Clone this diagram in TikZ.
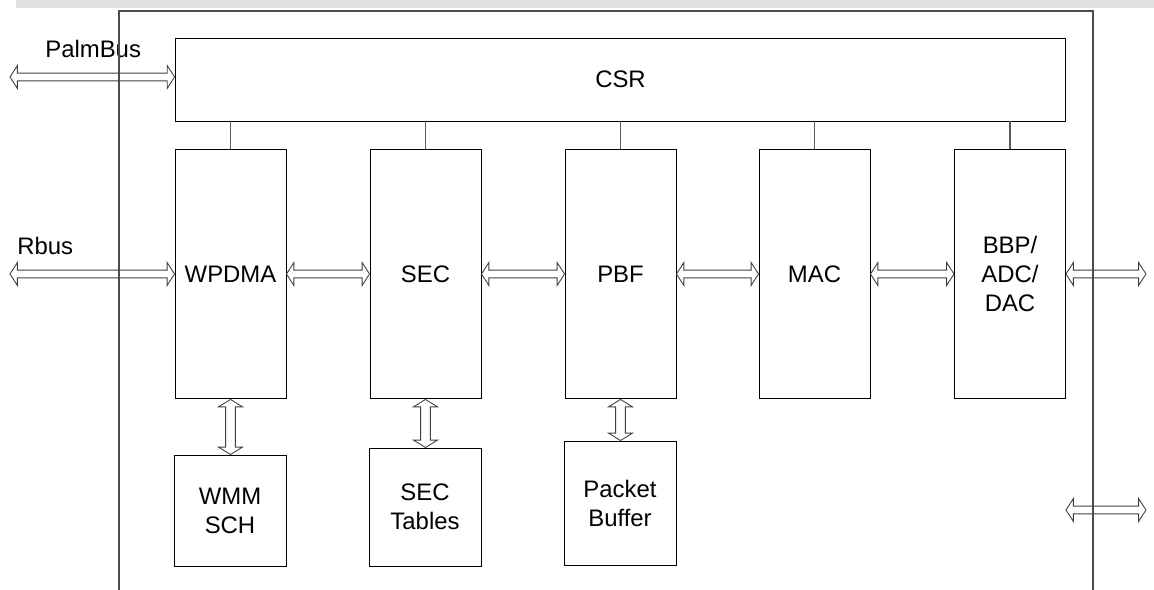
\documentclass[tikz,border=0pt]{standalone}
\usepackage{fontspec}
\setmainfont{Liberation Sans}
\usetikzlibrary{calc}

% hollow double-headed bus arrows
\newcommand{\hbus}[2]{%
  \draw[bus] let \p1=(#1), \p2=(#2) in
    (\x1,\y1) -- (\x1+4.2pt,\y1+6.5pt) -- (\x1+4.2pt,\y1+2.2pt)
    -- (\x2-4.2pt,\y1+2.2pt) -- (\x2-4.2pt,\y1+6.5pt) -- (\x2,\y1)
    -- (\x2-4.2pt,\y1-6.5pt) -- (\x2-4.2pt,\y1-2.2pt)
    -- (\x1+4.2pt,\y1-2.2pt) -- (\x1+4.2pt,\y1-6.5pt) -- cycle;}
\newcommand{\vbus}[2]{%
  \draw[bus] let \p1=(#1), \p2=(#2) in
    (\x1,\y1) -- (\x1+6.8pt,\y1-4.2pt) -- (\x1+2.8pt,\y1-4.2pt)
    -- (\x1+2.8pt,\y2+4.2pt) -- (\x1+6.8pt,\y2+4.2pt) -- (\x1,\y2)
    -- (\x1-6.8pt,\y2+4.2pt) -- (\x1-2.8pt,\y2+4.2pt)
    -- (\x1-2.8pt,\y1-4.2pt) -- (\x1-6.8pt,\y1-4.2pt) -- cycle;}

\begin{document}
\begin{tikzpicture}[
      x=0.02cm, y=-0.02cm,
      font=\fontsize{13.6}{16.6}\selectfont,
      box/.style={draw=black, line width=0.55pt, align=center, inner sep=0pt},
      block/.style={box, minimum width=2.22cm, minimum height=5cm},
      mem/.style={box, minimum width=2.24cm},
      link/.style={draw=black!65, line width=0.8pt},
      frame/.style={draw=black!70, line width=0.9pt},
      bus/.style={draw=black!75, line width=0.5pt},
      label/.style={anchor=base west, inner sep=0pt}
    ]

    \path[use as bounding box] (0,0) rectangle (1154,590);

    % Top bar
    \fill[black!12] (16,0) rectangle (1154,8);

    % Control registers
    \node[box, minimum width=17.82cm, minimum height=1.66cm] (csr) at (620.5,79.5) {CSR};

    % Data path blocks
    \node[block] (wpdma) at (230.5,274) {WPDMA};
    \node[block] (sec)   at (425.5,274) {SEC};
    \node[block] (pbf)   at (620.5,274) {PBF};
    \node[block] (mac)   at (814.5,274) {MAC};
    \node[block] (bbp)   at (1010,274)  {BBP/\\ADC/\\DAC};

    % Memories
    \node[mem, minimum height=2.22cm] (wmm)    at (230,510.5) {WMM\\SCH};
    \node[mem, minimum height=2.36cm] (sectab) at (425,507)   {SEC\\Tables};
    \node[mem, minimum height=2.5cm]  (pktbuf) at (620,503.5) {Packet\\Buffer};

    % CSR taps
    \foreach \b in {wpdma,sec,pbf,mac,bbp}
      \draw[link] (\b.north) -- (\b.north |- csr.south);

    % External buses
    \coordinate (palmL) at (10,77);
    \coordinate (rbusL) at (10,274);
    \coordinate (bbpR)  at (1146,274);
    \coordinate (extL)  at (1066,510);
    \coordinate (extR)  at (1146,510);

    \node[label] (palmlbl) at (45,58) {PalmBus};
    \node[label] (rbuslbl) at (17,255) {Rbus};

    \hbus{palmL}{palmL -| csr.west}
    \hbus{rbusL}{wpdma.west}
    \hbus{bbp.east}{bbpR}
    \hbus{extL}{extR}

    % Block to block
    \hbus{wpdma.east}{sec.west}
    \hbus{sec.east}{pbf.west}
    \hbus{pbf.east}{mac.west}
    \hbus{mac.east}{bbp.west}

    % Block to memory
    \vbus{wpdma.south}{wmm.north}
    \vbus{sec.south}{sectab.north}
    \vbus{pbf.south}{pktbuf.north}

    % Chip boundary
    \draw[frame] (119,590) -- (119,11) -- (1093,11) -- (1093,590);

  \end{tikzpicture}
\end{document}
